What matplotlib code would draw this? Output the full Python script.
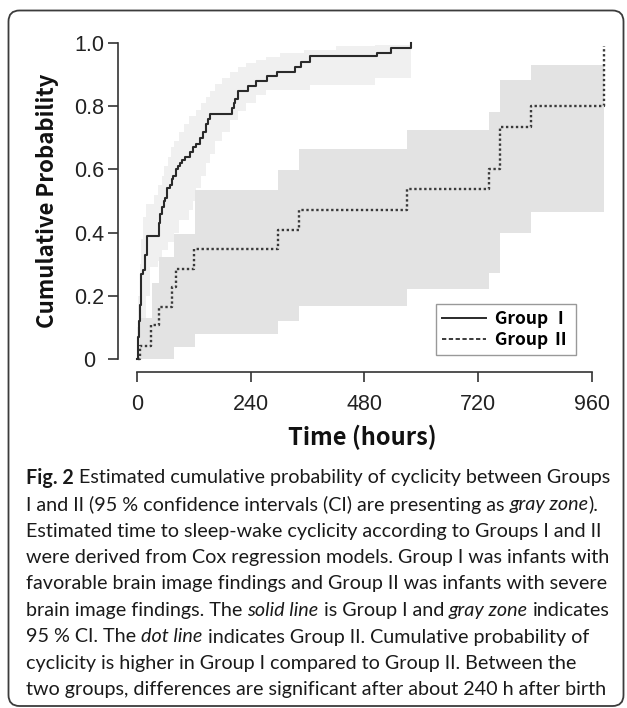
import matplotlib
matplotlib.use("Agg")
import matplotlib.pyplot as plt
import matplotlib.patches as mpatches
from matplotlib.lines import Line2D

# ---------------- data ----------------
# Group I (solid line), cumulative probability steps
g1_time = [0, 1.5, 3, 4.5, 6, 7.7, 9, 13, 18, 20.5, 47, 49, 52, 56, 59, 64, 69, 73, 77, 82,
           87, 91, 94, 101, 112, 118, 124, 133, 140, 145, 150, 154, 200, 204, 207, 214, 235,
           252, 274, 295, 333, 347, 365, 506, 537, 579]
g1_prob = [0, 0.03, 0.07, 0.12, 0.17, 0.21, 0.27, 0.28, 0.33, 0.39, 0.43, 0.46, 0.48, 0.50, 0.51,
           0.54, 0.55, 0.57, 0.58, 0.60, 0.61, 0.62, 0.63, 0.64, 0.655, 0.67, 0.68, 0.70, 0.72,
           0.745, 0.76, 0.775, 0.795, 0.81, 0.825, 0.85, 0.865, 0.88, 0.895, 0.91, 0.925, 0.94,
           0.96, 0.97, 0.985, 1.0]

# Group I 95% CI (light gray zone)
g1_ci_time = [0, 3, 6, 8, 12, 20, 27, 35, 44, 52, 57, 65, 72, 78, 88, 99, 110, 119, 124, 135,
              145, 154, 165, 179, 196, 213, 231, 251, 273, 301, 352, 365, 420, 502, 579]
g1_ci_hi = [0.10, 0.20, 0.30, 0.38, 0.45, 0.49, 0.49, 0.52, 0.55, 0.58, 0.61, 0.64, 0.67, 0.69,
            0.72, 0.745, 0.77, 0.77, 0.79, 0.81, 0.83, 0.85, 0.87, 0.89, 0.91, 0.925, 0.937,
            0.947, 0.958, 0.968, 0.98, 0.98, 0.99, 0.995, 0.995]
g1_ci_lo = [0, 0, 0.03, 0.03, 0.13, 0.20, 0.29, 0.29, 0.31, 0.345, 0.345, 0.37, 0.37, 0.40,
            0.44, 0.44, 0.47, 0.50, 0.54, 0.58, 0.62, 0.65, 0.69, 0.72, 0.757, 0.785, 0.81,
            0.835, 0.852, 0.852, 0.852, 0.868, 0.868, 0.889, 0.889]

# Group II (dotted line)
g2_time = [3, 5.6, 30, 47, 74, 82, 121, 297, 342, 570, 742, 766, 831, 985]
g2_prob = [0, 0.04, 0.107, 0.165, 0.228, 0.286, 0.347, 0.408, 0.471, 0.537, 0.60, 0.736, 0.801, 0.99]

# Group II 95% CI (darker gray zone)
g2_ci_time = [7, 31, 46, 78, 122, 297, 342, 570, 742, 766, 831, 985]
g2_ci_hi = [0.128, 0.239, 0.323, 0.397, 0.535, 0.598, 0.665, 0.725, 0.783, 0.884, 0.931, 0.931]
g2_ci_lo = [0, 0, 0, 0.038, 0.077, 0.12, 0.167, 0.22, 0.273, 0.40, 0.465, 0.465]

x_ticks = [0, 240, 480, 720, 960]
y_ticks = [0, 0.2, 0.4, 0.6, 0.8, 1.0]
y_tick_labels = ["0", "0.2", "0.4", "0.6", "0.8", "1.0"]
legend_labels = ["Group Ⅰ", "Group Ⅱ"]

caption = [
    [("Fig. 2", "bold"), (" Estimated cumulative probability of cyclicity between Groups", "normal")],
    [("I and II (95 % confidence intervals (CI) are presenting as ", "normal"), ("gray zone", "italic"), (").", "normal")],
    [("Estimated time to sleep-wake cyclicity according to Groups I and II", "normal")],
    [("were derived from Cox regression models. Group I was infants with", "normal")],
    [("favorable brain image findings and Group II was infants with severe", "normal")],
    [("brain image findings. The ", "normal"), ("solid line", "italic"), (" is Group I and ", "normal"),
     ("gray zone", "italic"), (" indicates", "normal")],
    [("95 % CI. The ", "normal"), ("dot line", "italic"), (" indicates Group II. Cumulative probability of", "normal")],
    [("cyclicity is higher in Group I compared to Group II. Between the", "normal")],
    [("two groups, differences are significant after about 240 h after birth", "normal")],
]

W, H = 627, 708
fig = plt.figure(figsize=(W / 100, H / 100), dpi=100)
fig.patch.set_facecolor("white")

def fx(x):
    return x / W

def fy(y):
    return 1 - y / H

# rounded frame round the whole figure
frame = mpatches.FancyBboxPatch((8.5, 2), 615, 695.5, boxstyle="round,pad=0,rounding_size=11",
                                transform=None, fill=False, edgecolor="#3c3c3c", linewidth=1.3)
fig.patches.append(frame)

ax = fig.add_axes([fx(118), fy(372), fx(610) - fx(118), fy(40) - fy(372)])
ax.set_xlim(-40, 998)
ax.set_ylim(-0.042, 1.0105)

ax.fill_between(g1_ci_time, g1_ci_lo, g1_ci_hi, step="post", color="#f0f0f0", linewidth=0)
ax.fill_between(g2_ci_time, g2_ci_lo, g2_ci_hi, step="post", color="#e3e3e3", linewidth=0)
ax.plot(g2_time, g2_prob, drawstyle="steps-post", color="#3a3a3a", linewidth=1.7,
        linestyle=(0, (1, 1.1)))
ax.plot(g1_time, g1_prob, drawstyle="steps-post", color="#2a2a2a", linewidth=1.5)

for s in ["top", "right"]:
    ax.spines[s].set_visible(False)
ax.spines["left"].set_bounds(0, 1)
ax.spines["bottom"].set_bounds(0, 960)
for s in ["left", "bottom"]:
    ax.spines[s].set_linewidth(1.2)
    ax.spines[s].set_color("#333333")

ax.set_xticks(x_ticks)
ax.set_yticks(y_ticks)
ax.set_yticklabels(y_tick_labels)
tick_font = ["Liberation Sans Narrow", "Liberation Sans"]
ax.tick_params(axis="both", direction="out", length=7, width=1.2, color="#333333",
               labelcolor="#222222", labelsize=15.5)
ax.tick_params(axis="y", pad=13.5)
ax.tick_params(axis="x", pad=8.5)
for lab in ax.get_yticklabels():
    lab.set_family(tick_font)
    lab.set_horizontalalignment("center")
for lab in ax.get_xticklabels():
    lab.set_family(tick_font)

label_font = ["Noto Sans CJK KR", "DejaVu Sans"]
fig.text(fx(48), fy(201), "Cumulative Probability", rotation=90, ha="center", va="center",
         fontsize=16, fontweight="bold", family=label_font, color="#111111")
fig.text(fx(362), fy(437), "Time (hours)", ha="center", va="center",
         fontsize=17, fontweight="bold", family=label_font, color="#111111")

handles = [Line2D([], [], color="#2a2a2a", linewidth=1.4),
           Line2D([], [], color="#3a3a3a", linewidth=1.4, linestyle=(0, (2.2, 1.3)))]
leg = ax.legend(handles, legend_labels, loc="upper left",
                bbox_to_anchor=(fx(436), fy(304)), bbox_transform=fig.transFigure,
                borderaxespad=0, fancybox=False, edgecolor="#999999", framealpha=1,
                handlelength=2.55, handletextpad=0.5, borderpad=0.35, labelspacing=0.15,
                prop={"family": label_font, "weight": "bold", "size": 12.5})
leg.get_frame().set_linewidth(1.0)

# caption with mixed bold / italic pieces
fig.canvas.draw()
renderer = fig.canvas.get_renderer()
cap_font = "Lato"
cap_size = 14.2
line_y = [478, 504.5, 531, 557.5, 584, 610.5, 637, 663.5, 690]

def space_width(style):
    a = fig.text(0, 0, "x x", fontsize=cap_size, family=cap_font,
                 fontweight="bold" if style == "bold" else "normal",
                 fontstyle="italic" if style == "italic" else "normal")
    b = fig.text(0, 0, "xx", fontsize=cap_size, family=cap_font,
                 fontweight="bold" if style == "bold" else "normal",
                 fontstyle="italic" if style == "italic" else "normal")
    w = a.get_window_extent(renderer).width - b.get_window_extent(renderer).width
    a.remove()
    b.remove()
    return w

sp = space_width("normal")
for y, segs in zip(line_y, caption):
    x = 26
    for txt, style in segs:
        lead = len(txt) - len(txt.lstrip(" "))
        trail = len(txt) - len(txt.rstrip(" "))
        x += lead * sp
        t = fig.text(fx(x), fy(y), txt.strip(" "), ha="left", va="center", fontsize=cap_size,
                     family=cap_font, color="#1a1a1a",
                     fontweight="bold" if style == "bold" else "normal",
                     fontstyle="italic" if style == "italic" else "normal")
        x += t.get_window_extent(renderer).width + trail * sp

fig.savefig("out.png", dpi=100)
